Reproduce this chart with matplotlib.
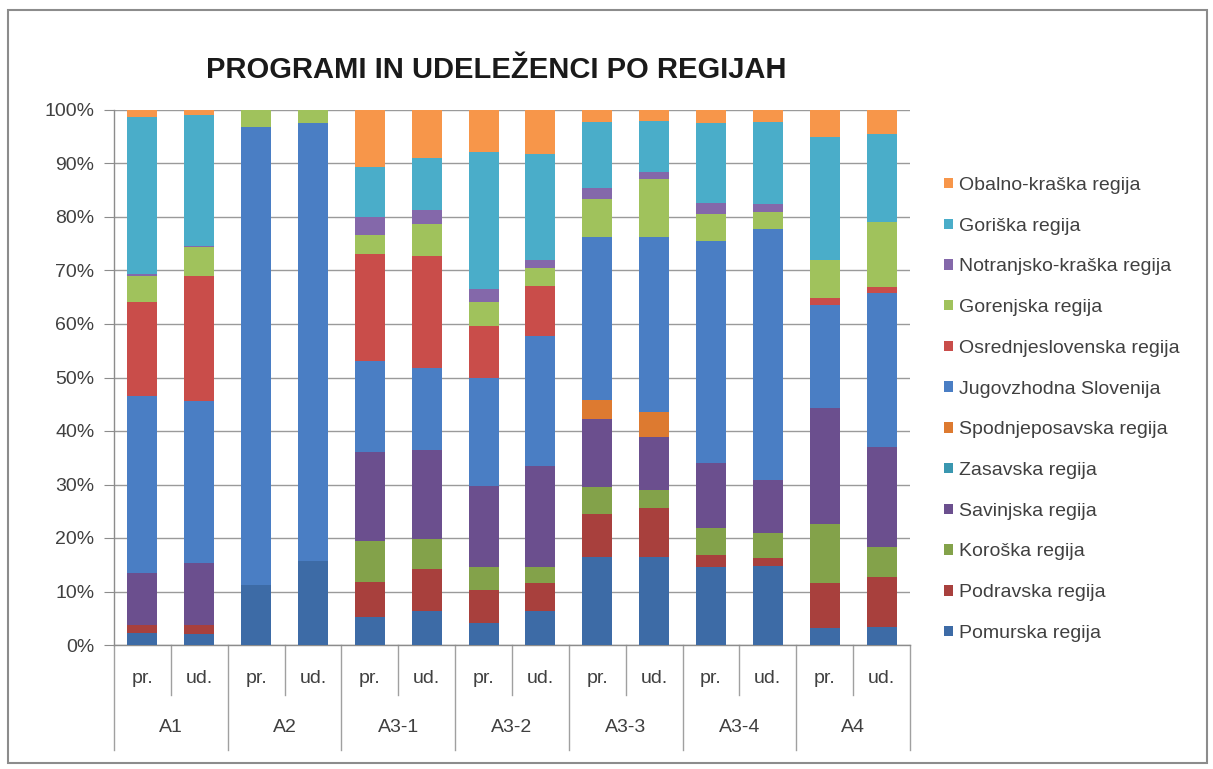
import matplotlib
matplotlib.use("Agg")
import matplotlib.pyplot as plt
from matplotlib.patches import Rectangle, Patch
from matplotlib import font_manager
import numpy as np

# ---------------- data ----------------
groups = ["A1", "A2", "A3-1", "A3-2", "A3-3", "A3-4", "A4"]
sub_labels = ["pr.", "ud."]

regions = ["Pomurska regija", "Podravska regija", "Koroška regija", "Savinjska regija",
           "Zasavska regija", "Spodnjeposavska regija", "Jugovzhodna Slovenija",
           "Osrednjeslovenska regija", "Gorenjska regija", "Notranjsko-kraška regija",
           "Goriška regija", "Obalno-kraška regija"]

# shares (%) per bar, order: A1 pr, A1 ud, A2 pr, A2 ud, A3-1 pr, A3-1 ud, A3-2 pr, A3-2 ud,
#                            A3-3 pr, A3-3 ud, A3-4 pr, A3-4 ud, A4 pr, A4 ud
pomurska          = [2.2, 2.0, 11.3, 15.7, 5.3, 6.3, 4.2, 6.3, 16.5, 16.5, 14.5, 14.8, 3.1, 3.3]
podravska         = [1.6, 1.7, 0.0, 0.0, 6.4, 7.9, 6.1, 5.2, 8.0, 9.2, 2.4, 1.5, 8.4, 9.4]
koroska           = [0.0, 0.0, 0.0, 0.0, 7.8, 5.6, 4.2, 3.0, 5.0, 3.3, 4.9, 4.7, 11.2, 5.6]
savinjska         = [9.7, 11.6, 0.0, 0.0, 16.5, 16.7, 15.3, 19.0, 12.8, 9.8, 12.3, 9.9, 21.6, 18.8]
zasavska          = [0.0, 0.0, 0.0, 0.0, 0.0, 0.0, 0.0, 0.0, 0.0, 0.0, 0.0, 0.0, 0.0, 0.0]
spodnjeposavska   = [0.0, 0.0, 0.0, 0.0, 0.0, 0.0, 0.0, 0.0, 3.5, 4.7, 0.0, 0.0, 0.0, 0.0]
jugovzhodna       = [33.0, 30.4, 85.6, 81.8, 17.0, 15.2, 20.2, 24.2, 30.4, 32.8, 41.4, 46.8, 19.2, 28.7]
osrednjeslovenska = [17.6, 23.3, 0.0, 0.0, 20.0, 21.0, 9.7, 9.4, 0.0, 0.0, 0.0, 0.0, 1.3, 1.2]
gorenjska         = [4.9, 5.3, 3.1, 2.5, 3.7, 6.0, 4.4, 3.4, 7.1, 10.8, 5.0, 3.3, 7.2, 12.0]
notranjsko        = [0.3, 0.2, 0.0, 0.0, 3.3, 2.6, 2.4, 1.4, 2.2, 1.4, 2.2, 1.5, 0.0, 0.0]
goriska           = [29.4, 24.5, 0.0, 0.0, 9.3, 9.7, 25.7, 19.9, 12.2, 9.5, 14.8, 15.3, 23.0, 16.5]
obalno            = [1.3, 1.0, 0.0, 0.0, 10.7, 9.0, 7.8, 8.2, 2.3, 2.0, 2.5, 2.2, 5.0, 4.5]

series = [pomurska, podravska, koroska, savinjska, zasavska, spodnjeposavska,
          jugovzhodna, osrednjeslovenska, gorenjska, notranjsko, goriska, obalno]

colors = ["#3D6BA6", "#A8403D", "#83A24A", "#6B4F8E", "#3A97B0", "#DD7A30",
          "#4A7EC4", "#C94D4A", "#A0C25C", "#8468AA", "#4AADC9", "#F7964A"]

# ---------------- fonts ----------------
avail = {f.name for f in font_manager.fontManager.ttflist}
fam = "Liberation Sans" if "Liberation Sans" in avail else "DejaVu Sans"
plt.rcParams["font.family"] = [fam, "DejaVu Sans"]
txt_color = "#404040"
fs = 14

# ---------------- figure ----------------
W, H = 1213, 769
fig = plt.figure(figsize=(W / 100, H / 100), dpi=100)
fig.patch.set_facecolor("white")

# outer chart border
fig.add_artist(Rectangle((8 / W, 1 - 763 / H), (1207 - 8) / W, (763 - 10) / H,
                         transform=fig.transFigure, fill=False,
                         edgecolor="#8c8c8c", linewidth=1.5))

left, right, bottom, top = 114, 910, 645, 110
ax = fig.add_axes([left / W, 1 - bottom / H, (right - left) / W, (bottom - top) / H])

n_bars = len(groups) * len(sub_labels)
x = np.arange(n_bars)
data = np.array(series, dtype=float)
totals = data.sum(axis=0)
shares = data / totals * 100.0

base = np.zeros(n_bars)
handles = []
for vals, col, name in zip(shares, colors, regions):
    ax.bar(x, vals, bottom=base, width=0.53, color=col, edgecolor="none", zorder=3)
    base += vals
    handles.append(Patch(facecolor=col, edgecolor="none", label=name))

ax.set_xlim(-0.5, n_bars - 0.5)
ax.set_ylim(0, 100)
ax.set_yticks(np.arange(0, 101, 10))
ax.set_yticklabels([f"{v}%" for v in range(0, 101, 10)])
ax.yaxis.grid(True, color="#9a9a9a", linewidth=1.0, zorder=0)
ax.set_axisbelow(True)

for s in ["top", "right"]:
    ax.spines[s].set_visible(False)
ax.spines["left"].set_color("#8c8c8c")
ax.spines["bottom"].set_color("#8c8c8c")
ax.spines["left"].set_linewidth(1.0)
ax.spines["bottom"].set_linewidth(1.0)
ax.tick_params(axis="y", length=7, color="#8c8c8c", labelsize=fs,
               labelcolor=txt_color, pad=7)

# two-level category axis
ax.set_xticks(x)
ax.set_xticklabels(sub_labels * len(groups))
ax.tick_params(axis="x", length=0, labelsize=fs, labelcolor=txt_color, pad=18)

xt = ax.get_xaxis_transform()
ax_h = bottom - top
short = -(695 - bottom) / ax_h
long_ = -(750 - bottom) / ax_h
for b in range(n_bars + 1):
    bx = b - 0.5
    yl = long_ if b % 2 == 0 else short
    ax.plot([bx, bx], [0, yl], transform=xt, color="#a0a0a0", linewidth=1.0,
            clip_on=False, zorder=1)
for gi, g in enumerate(groups):
    ax.text(gi * 2 + 0.5, -(727 - bottom) / ax_h, g, transform=xt, ha="center",
            va="center", fontsize=fs, color=txt_color)

fig.text(496 / W, 1 - 70 / H, "PROGRAMI IN UDELEŽENCI PO REGIJAH",
         ha="center", va="center", fontsize=21, fontweight="bold", color="#1a1a1a")

leg = fig.legend(handles=handles[::-1], loc="upper left",
                 bbox_to_anchor=(944 / W, 1 - 177 / H), frameon=False,
                 fontsize=fs, handlelength=0.45, handleheight=0.45,
                 handletextpad=0.3, labelspacing=1.22, borderaxespad=0,
                 borderpad=0)
for t in leg.get_texts():
    t.set_color(txt_color)

fig.savefig("out.png", dpi=100, facecolor="white")
